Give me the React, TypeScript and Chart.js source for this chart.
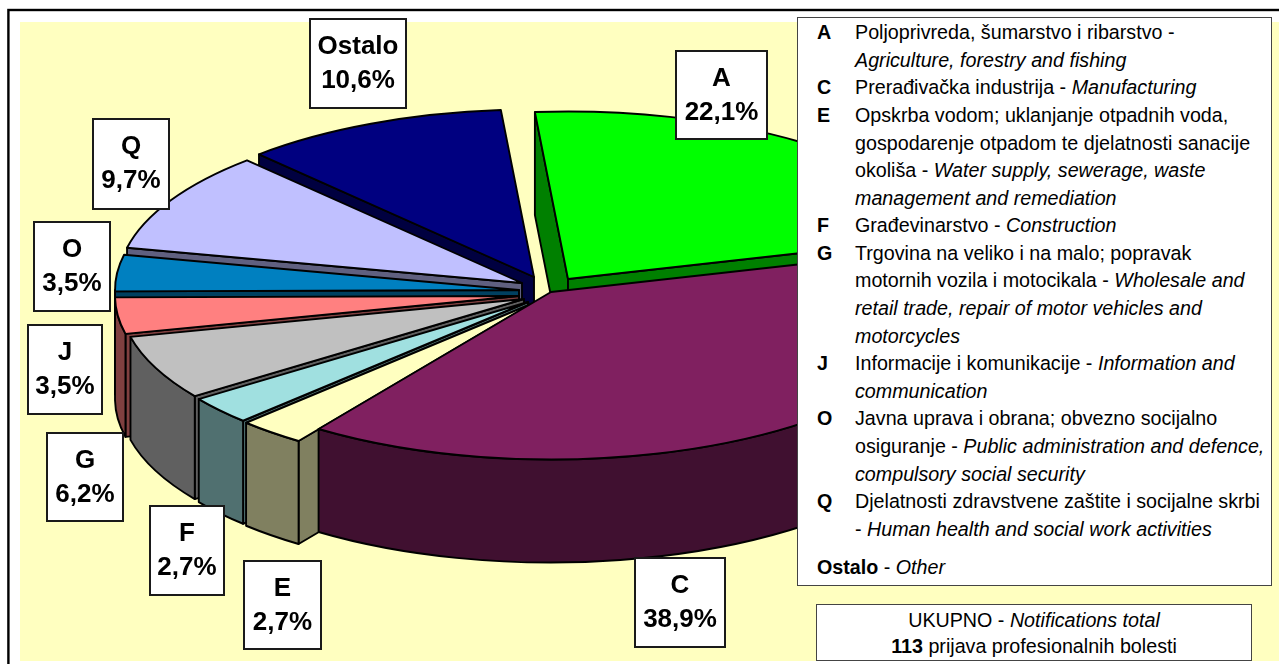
import React, { useEffect, useRef } from "react";
import { Chart, registerables } from "chart.js";

Chart.register(...registerables);

// ---- data ----
const categories = ["A", "C", "E", "F", "G", "J", "O", "Q", "Ostalo"];
const shares = [22.1, 38.9, 2.7, 2.7, 6.2, 3.5, 3.5, 9.7, 10.6];

// ---- style ----
const topColors = ["#00FF00", "#802060", "#FFFFC0", "#A0E0E0", "#C0C0C0", "#FF8080", "#0080C0", "#C0C0FF", "#000080"];
const sideColors = ["#008000", "#401030", "#808060", "#507070", "#606060", "#804040", "#004060", "#606080", "#000040"];
// exploded displacement of each slice from the pie centre
const explodeX = [40, 23, 3, 0, -4, -9, -9, -6, 6];
const explodeY = [-13, 0, 12, 10, 7, 4, -2, -9, -15];
// back-to-front painting order
const paintOrder = [8, 0, 7, 6, 5, 4, 3, 2, 1];
// label boxes: left, top, right, bottom
const labelBoxes = [
  [676, 51, 767, 139],
  [635, 558, 725, 647],
  [244, 561, 321, 649],
  [150, 506, 224, 595],
  [47, 433, 123, 521],
  [28, 325, 102, 414],
  [34, 222, 110, 311],
  [93, 119, 169, 209],
  [310, 19, 406, 108],
];

const PIE = { cx: 528, cy: 292, rx: 404, ry: 167.5, depth: 103 };

type Run = [string, ("n" | "b" | "i")?];
const legendLines: { y: number; key?: string; runs: Run[] }[] = [
  { y: 39, key: "A", runs: [["Poljoprivreda, šumarstvo i ribarstvo -"]] },
  { y: 67, runs: [["Agriculture, forestry and fishing", "i"]] },
  { y: 94, key: "C", runs: [["Prerađivačka industrija - "], ["Manufacturing", "i"]] },
  { y: 122, key: "E", runs: [["Opskrba vodom; uklanjanje otpadnih voda,"]] },
  { y: 150, runs: [["gospodarenje otpadom te djelatnosti sanacije"]] },
  { y: 177, runs: [["okoliša - "], ["Water supply, sewerage, waste", "i"]] },
  { y: 205, runs: [["management and remediation", "i"]] },
  { y: 232, key: "F", runs: [["Građevinarstvo - "], ["Construction", "i"]] },
  { y: 260, key: "G", runs: [["Trgovina na veliko i na malo; popravak"]] },
  { y: 287, runs: [["motornih vozila i motocikala - "], ["Wholesale and", "i"]] },
  { y: 315, runs: [["retail trade, repair of motor vehicles and", "i"]] },
  { y: 343, runs: [["motorcycles", "i"]] },
  { y: 370, key: "J", runs: [["Informacije i komunikacije - "], ["Information and", "i"]] },
  { y: 398, runs: [["communication", "i"]] },
  { y: 425, key: "O", runs: [["Javna uprava i obrana; obvezno socijalno"]] },
  { y: 453, runs: [["osiguranje - "], ["Public administration and defence,", "i"]] },
  { y: 481, runs: [["compulsory social security", "i"]] },
  { y: 508, key: "Q", runs: [["Djelatnosti zdravstvene zaštite i socijalne skrbi"]] },
  { y: 536, runs: [["- "], ["Human health and social work activities", "i"]] },
];

const FONT = '"Liberation Sans", Arial, sans-serif';
const LEG_SIZE = 19.7;

function facePath(ctx: CanvasRenderingContext2D, pts: number[][]) {
  ctx.beginPath();
  pts.forEach((p, i) => (i ? ctx.lineTo(p[0], p[1]) : ctx.moveTo(p[0], p[1])));
  ctx.closePath();
}

const pie3d = {
  id: "pie3d",
  beforeDraw(chart: any) {
    const ctx = chart.ctx;
    ctx.save();
    ctx.fillStyle = "#FFFFFF";
    ctx.fillRect(0, 0, chart.width, chart.height);
    ctx.fillStyle = "#FFFFC0";
    ctx.fillRect(20, 22, chart.width - 20, 639);
    ctx.strokeStyle = "#000000";
    ctx.lineWidth = 2.4;
    ctx.strokeRect(8.4, 10, chart.width + 20, chart.height + 20);
    ctx.restore();
  },
  beforeDatasetDraw(chart: any) {
    const ctx = chart.ctx;
    const arcs = chart.getDatasetMeta(0).data;
    const { rx, ry, depth } = PIE;
    ctx.save();
    ctx.lineJoin = "round";
    ctx.lineWidth = 1.9;
    ctx.strokeStyle = "#000000";
    paintOrder.forEach((i) => {
      const el = arcs[i];
      const s = el.startAngle;
      const e = el.endAngle;
      const x = PIE.cx + explodeX[i];
      const y = PIE.cy + explodeY[i];
      ctx.fillStyle = sideColors[i];
      // radial cut faces that look towards the viewer
      const faces: number[] = [];
      if (Math.cos(s) < 0) faces.push(s);
      if (Math.cos(e) > 0) faces.push(e);
      faces.forEach((t) => {
        const px = x + rx * Math.cos(t);
        const py = y + ry * Math.sin(t);
        facePath(ctx, [[x, y], [px, py], [px, py + depth], [x, y + depth]]);
        ctx.fill();
        ctx.stroke();
      });
      // visible part of the outer wall
      const a = Math.max(s, 0);
      const b = Math.min(e, Math.PI);
      if (b > a) {
        ctx.beginPath();
        ctx.ellipse(x, y, rx, ry, 0, a, b);
        ctx.ellipse(x, y + depth, rx, ry, 0, b, a, true);
        ctx.closePath();
        ctx.fill();
        ctx.stroke();
      }
      // top surface: the library's own arc element, squashed into perspective
      ctx.save();
      ctx.translate(x, y);
      ctx.scale(rx / el.outerRadius, ry / el.outerRadius);
      ctx.translate(-el.x, -el.y);
      el.draw(ctx);
      ctx.restore();
      ctx.beginPath();
      ctx.moveTo(x, y);
      ctx.ellipse(x, y, rx, ry, 0, s, e);
      ctx.closePath();
      ctx.stroke();
    });
    ctx.restore();
    return false;
  },
  afterDraw(chart: any) {
    const ctx = chart.ctx;
    ctx.save();
    ctx.font = `bold 26px ${FONT}`;
    ctx.textAlign = "center";
    ctx.textBaseline = "alphabetic";
    categories.forEach((name, i) => {
      const [l, t, r, b] = labelBoxes[i];
      ctx.fillStyle = "#FFFFFF";
      ctx.fillRect(l, t, r - l, b - t);
      ctx.strokeStyle = "#1A1A1A";
      ctx.lineWidth = 2;
      ctx.strokeRect(l, t, r - l, b - t);
      ctx.fillStyle = "#000000";
      const mid = (l + r) / 2;
      ctx.fillText(name, mid, t + 35);
      ctx.fillText(shares[i].toFixed(1).replace(".", ",") + "%", mid, t + 69);
    });
    ctx.restore();
  },
};

const abs = (left: number, baseline: number): React.CSSProperties => ({
  position: "absolute",
  left,
  top: baseline - 17,
  lineHeight: "20px",
  whiteSpace: "pre",
  fontFamily: FONT,
  fontSize: LEG_SIZE,
  color: "#000",
});

function runSpan(r: Run, k: number) {
  return (
    <span key={k} style={{ fontStyle: r[1] === "i" ? "italic" : "normal", fontWeight: r[1] === "b" ? "bold" : "normal" }}>
      {r[0]}
    </span>
  );
}

export default function App() {
  const ref = useRef<HTMLCanvasElement | null>(null);
  useEffect(() => {
    const chart = new Chart(ref.current as HTMLCanvasElement, {
      type: "pie",
      data: {
        labels: categories,
        datasets: [{ data: shares, backgroundColor: topColors, borderWidth: 0 }],
      },
      options: {
        responsive: false,
        animation: false,
        rotation: -4.7,
        layout: { padding: 0 },
        plugins: { legend: { display: false }, tooltip: { enabled: false }, title: { display: false } },
      },
      plugins: [pie3d],
    } as any);
    return () => chart.destroy();
  }, []);

  return (
    <div style={{ position: "fixed", left: 0, top: 0, width: 1279, height: 664, overflow: "hidden", background: "#fff" }}>
      <canvas ref={ref} width={1279} height={664} style={{ position: "absolute", left: 0, top: 0 }} />
      <div
        style={{
          position: "absolute",
          left: 797,
          top: 17,
          width: 475,
          height: 569,
          boxSizing: "border-box",
          background: "#fff",
          border: "1.5px solid #444",
        }}
      />
      {legendLines.map((ln, i) => (
        <React.Fragment key={i}>
          {ln.key ? <div style={{ ...abs(817, ln.y), fontWeight: "bold" }}>{ln.key}</div> : null}
          <div style={abs(855, ln.y)}>{ln.runs.map(runSpan)}</div>
        </React.Fragment>
      ))}
      <div style={abs(817, 574)}>
        <b>Ostalo</b> - <i>Other</i>
      </div>
      <div
        style={{
          position: "absolute",
          left: 816,
          top: 604,
          width: 436,
          height: 57,
          boxSizing: "border-box",
          background: "#fff",
          border: "1.5px solid #444",
        }}
      />
      <div style={{ ...abs(816, 627), width: 436, textAlign: "center" }}>
        UKUPNO - <i>Notifications total</i>
      </div>
      <div style={{ ...abs(816, 653), width: 436, textAlign: "center" }}>
        <b>113</b> prijava profesionalnih bolesti
      </div>
    </div>
  );
}
